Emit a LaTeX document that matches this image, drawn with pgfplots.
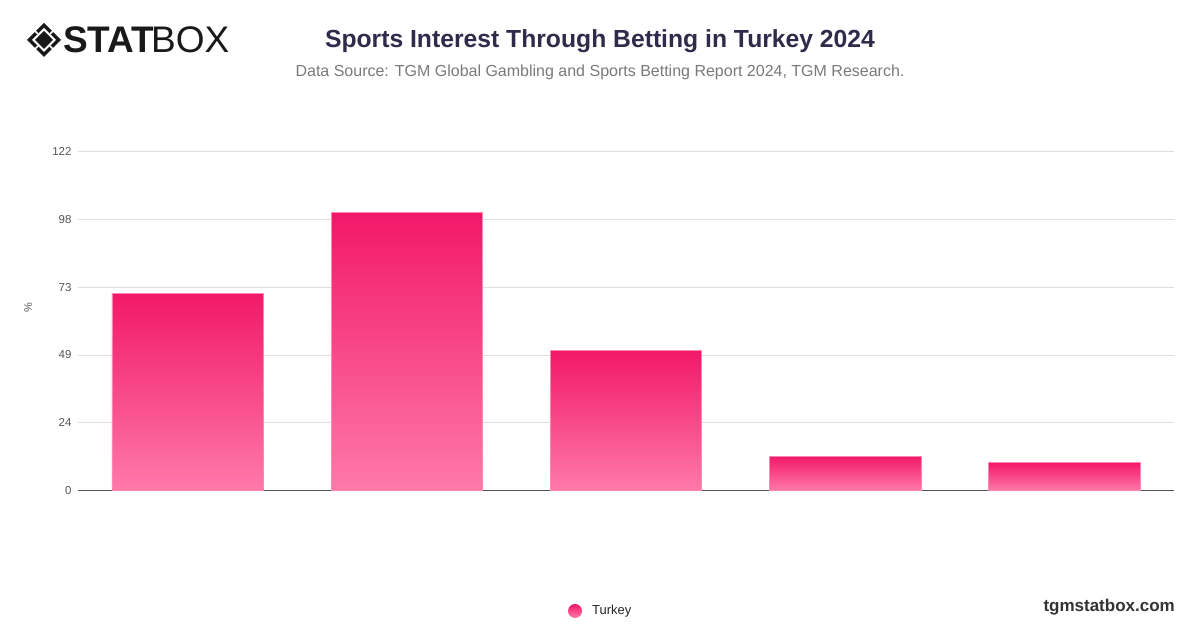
\documentclass[border=0pt]{standalone}
\usepackage{pgfplots}
\pgfplotsset{compat=1.18}
\usepackage{fontspec}
\setmainfont{Liberation Sans}
\definecolor{barTop}{HTML}{F2186A}
\definecolor{barBot}{HTML}{FF7AA8}
\definecolor{barEdge}{HTML}{FF86B0}
\definecolor{titleC}{HTML}{2F2B4A}
\definecolor{subC}{HTML}{7A7A7A}
\definecolor{tickC}{HTML}{555555}
\definecolor{gridC}{HTML}{DEDEDE}
\tikzset{mybar/.style={shading=axis, top color=barTop, bottom color=barBot, draw=barEdge, line width=0.6pt}}
\begin{document}
\begin{tikzpicture}[x=1pt,y=1pt]
\path[use as bounding box, fill=white] (0,0) rectangle (1200,628);
% logo
\begin{scope}[shift={(44,588)}]
\fill[black!90] (0,17) -- (17,0) -- (0,-17) -- (-17,0) -- cycle;
\fill[white] (0,12) -- (12,0) -- (0,-12) -- (-12,0) -- cycle;
\fill[black!90] (0,9) -- (9,0) -- (0,-9) -- (-9,0) -- cycle;
\draw[white, line width=1.6pt] (-6,-6) -- (-14,-14);
\draw[white, line width=1.6pt] (6,6) -- (14,14);
\draw[white, line width=1.6pt] (-6,6) -- (-14,14);
\draw[white, line width=1.6pt] (6,-6) -- (14,-14);
\end{scope}
\node[anchor=west, inner sep=0pt, text=black!90] at (63,588) {\fontsize{37}{40}\selectfont\textbf{STAT}};
\node[anchor=west, inner sep=0pt, text=black!90] at (151,588) {\fontsize{37}{40}\selectfont BOX};
% title
\node[text=titleC, inner sep=0pt] at (600,587) {\fontsize{24.7}{28}\selectfont\textbf{Sports Interest Through Betting in Turkey 2024}};
\node[text=subC, inner sep=0pt] at (600,556) {\fontsize{16}{19}\selectfont Data Source: TGM Global Gambling and Sports Betting Report 2024, TGM Research.};
\begin{axis}[
  at={(78pt,137.3pt)}, anchor=south west,
  scale only axis, width=1096pt, height=339.4pt,
  xmin=-0.5, xmax=4.5, ymin=0, ymax=122,
  ybar, bar width=0.69, bar shift=0pt,
  axis x line*=bottom, axis y line*=left,
  x axis line style={tickC, line width=0.9pt, -},
  y axis line style={draw=none},
  xtick=\empty,
  ytick={0,24.4,48.8,73.2,97.6,122},
  yticklabels={0,24,49,73,98,122},
  ymajorgrids, grid style={gridC, line width=0.7pt},
  major tick length=0pt,
  yticklabel style={text=tickC, font=\fontsize{11.5}{13}\selectfont, anchor=east, xshift=-3pt},
  clip=false,
]
\addplot[mybar] coordinates {(0,70.8)};
\addplot[mybar] coordinates {(1,100.1)};
\addplot[mybar] coordinates {(2,50.5)};
\addplot[mybar] coordinates {(3,12.4)};
\addplot[mybar] coordinates {(4,10.2)};
\end{axis}
\node[rotate=90, text=tickC, inner sep=0pt] at (28,320) {\fontsize{11}{13}\selectfont\%};
% legend
\shade[top color=barTop, bottom color=barBot] (575,17) circle (7);
\node[anchor=west, text=black!85, inner sep=0pt] at (592,17) {\fontsize{13}{15}\selectfont Turkey};
\node[anchor=east, text=black!80, inner sep=0pt] at (1175,21) {\fontsize{17}{19}\selectfont\textbf{tgmstatbox.com}};
\end{tikzpicture}
\end{document}
